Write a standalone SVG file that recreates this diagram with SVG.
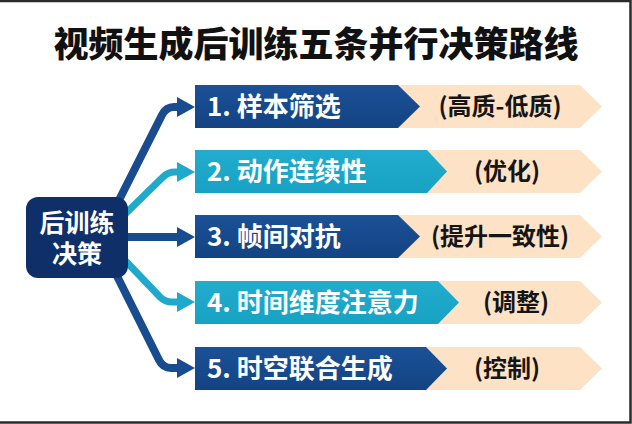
<svg xmlns="http://www.w3.org/2000/svg" width="632" height="424" viewBox="0 0 632 424">
<style>
.title{font-family:"Noto Sans CJK SC","Liberation Sans",sans-serif;font-weight:900;font-size:35px;fill:#111}
.lbl{font-family:"Noto Sans CJK SC","Liberation Sans",sans-serif;font-weight:700;font-size:26px;fill:#fff}
.sub{font-family:"Noto Sans CJK SC","Liberation Sans",sans-serif;font-weight:700;font-size:24px;fill:#151515;text-anchor:middle}
.ctr{font-family:"Noto Sans CJK SC","Liberation Sans",sans-serif;font-weight:700;font-size:25px;fill:#fff;text-anchor:middle}
.peach{fill:#fde2c6}
.blue{fill:url(#gb)}
.cyan{fill:url(#gc)}
.cb{fill:none;stroke:#184c8e;stroke-width:8;stroke-linejoin:round}
.cc{fill:none;stroke:#1fa9cb;stroke-width:7;stroke-linejoin:round}
</style>
<defs>
<linearGradient id="gb" x1="0" y1="0" x2="0" y2="1"><stop offset="0" stop-color="#1b5197"/><stop offset="1" stop-color="#134383"/></linearGradient>
<linearGradient id="gc" x1="0" y1="0" x2="0" y2="1"><stop offset="0" stop-color="#22adcf"/><stop offset="1" stop-color="#17a1c3"/></linearGradient>
<marker id="ab" markerUnits="userSpaceOnUse" markerWidth="18" markerHeight="20" refX="0" refY="10" orient="auto"><path d="M0,0 L18,10 L0,20 z" fill="#184c8e"/></marker>
<marker id="ac" markerUnits="userSpaceOnUse" markerWidth="18" markerHeight="20" refX="0" refY="10" orient="auto"><path d="M0,0 L18,10 L0,20 z" fill="#1fa9cb"/></marker>
</defs>
<rect width="632" height="424" fill="#fff"/>
<path d="M0,1 H630.5 V422.5 H0" fill="none" stroke="#2a2a2a" stroke-width="2.5"/>
<text class="title" x="316" y="57" text-anchor="middle">视频生成后训练五条并行决策路线</text>

<g id="connectors">
<path class="cb" d="M114,210 L162,115 Q166,107 174,107 L177,107" marker-end="url(#ab)"/>
<path class="cc" d="M120,219 L163,177 Q168,172 175,172 L177,172" marker-end="url(#ac)"/>
<path class="cb" d="M120,237 L177,237" marker-end="url(#ab)"/>
<path class="cc" d="M120,255 L160,297 Q165,302 172,302 L177,302" marker-end="url(#ac)"/>
<path class="cb" d="M112,266 L159,360 Q163,368 171,368 L177,368" marker-end="url(#ab)"/>
</g>

<g id="center">
<rect x="26" y="197" width="102" height="81" rx="12" fill="#0f2f68"/>
<text class="ctr" x="77" y="232">后训练<tspan x="77" dy="31">决策</tspan></text>
</g>

<g id="step1">
<polygon class="peach" points="396,85 580,85 602,106.5 580,128 396,128"/>
<polygon class="blue" points="195,85 398,85 420,106.5 398,128 195,128"/>
<text class="lbl" x="207" y="115.5">1. 样本筛选</text>
<text class="sub" x="500" y="115">(高质-低质)</text>
</g>

<g id="step2">
<polygon class="peach" points="425,150 580,150 602,171.5 580,193 425,193"/>
<polygon class="cyan" points="195,150 427,150 447,171.5 427,193 195,193"/>
<text class="lbl" x="207" y="180.5">2. 动作连续性</text>
<text class="sub" x="507" y="180">(优化)</text>
</g>

<g id="step3">
<polygon class="peach" points="396,215 580,215 602,236.5 580,258 396,258"/>
<polygon class="blue" points="195,215 398,215 420,236.5 398,258 195,258"/>
<text class="lbl" x="207" y="245.5">3. 帧间对抗</text>
<text class="sub" x="500" y="245">(提升一致性)</text>
</g>

<g id="step4">
<polygon class="peach" points="436,281 580,281 602,302.5 580,324 436,324"/>
<polygon class="cyan" points="195,281 438,281 459,302.5 438,324 195,324"/>
<text class="lbl" x="207" y="311.5">4. 时间维度注意力</text>
<text class="sub" x="516" y="311">(调整)</text>
</g>

<g id="step5">
<polygon class="peach" points="424,347 580,347 602,368.5 580,390 424,390"/>
<polygon class="blue" points="195,347 426,347 447,368.5 426,390 195,390"/>
<text class="lbl" x="207" y="377.5">5. 时空联合生成</text>
<text class="sub" x="507" y="377">(控制)</text>
</g>
</svg>
